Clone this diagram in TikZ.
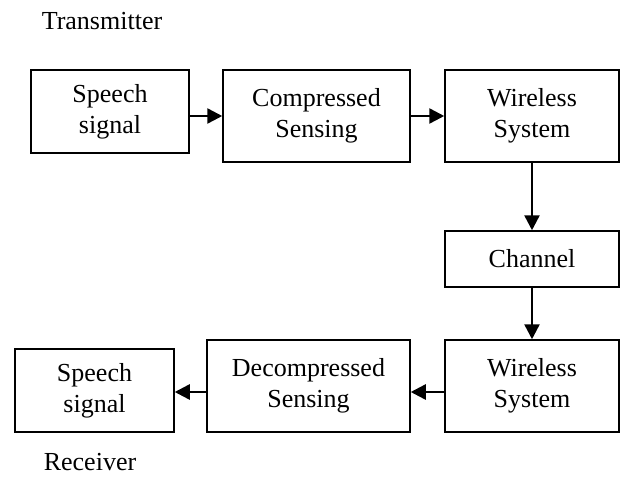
\documentclass[tikz,border=0pt]{standalone}
\usepackage{fontspec}
\setmainfont{Liberation Serif}
\usetikzlibrary{arrows.meta}
\begin{document}
\begin{tikzpicture}[x=1pt,y=-1pt,
  box/.style={draw,line width=1.5pt,rectangle,align=center,inner sep=0pt,
    font=\fontsize{26}{31}\selectfont},
  lbl/.style={font=\fontsize{26}{31}\selectfont,inner sep=0pt},
  arr/.style={line width=2.5pt,-{Triangle[length=15pt,width=15pt]}}]
\useasboundingbox (0,0) rectangle (622,477);
\node[lbl] (tx) at (102,21) {Transmitter};
\node[box,minimum width=158pt,minimum height=83pt] (s1) at (110,111.5) {Speech\\signal};
\node[box,minimum width=187pt,minimum height=92pt] (c) at (316.5,116) {Compressed\\Sensing};
\node[box,minimum width=174pt,minimum height=92pt] (w1) at (532,116) {Wireless\\System};
\node[box,minimum width=174pt,minimum height=56pt] (ch) at (532,259) {Channel};
\node[box,minimum width=174pt,minimum height=92pt] (w2) at (532,386) {Wireless\\System};
\node[box,minimum width=203pt,minimum height=92pt] (d) at (308.5,386) {Decompressed\\Sensing};
\node[box,minimum width=159pt,minimum height=83pt] (s2) at (94.5,390.5) {Speech\\signal};
\node[lbl] (rx) at (90,462) {Receiver};
\coordinate (dw) at ([yshift=-6pt]d.west);
\draw[arr] (s1.east |- c.west) -- (c.west);
\draw[arr] (c.east) -- (w1.west);
\draw[arr] (w1.south) -- (ch.north);
\draw[arr] (ch.south) -- (w2.north);
\draw[arr] ([yshift=-6pt]w2.west) -- ([yshift=-6pt]d.east);
\draw[arr] (dw) -- (s2.east |- dw);
\end{tikzpicture}
\end{document}
